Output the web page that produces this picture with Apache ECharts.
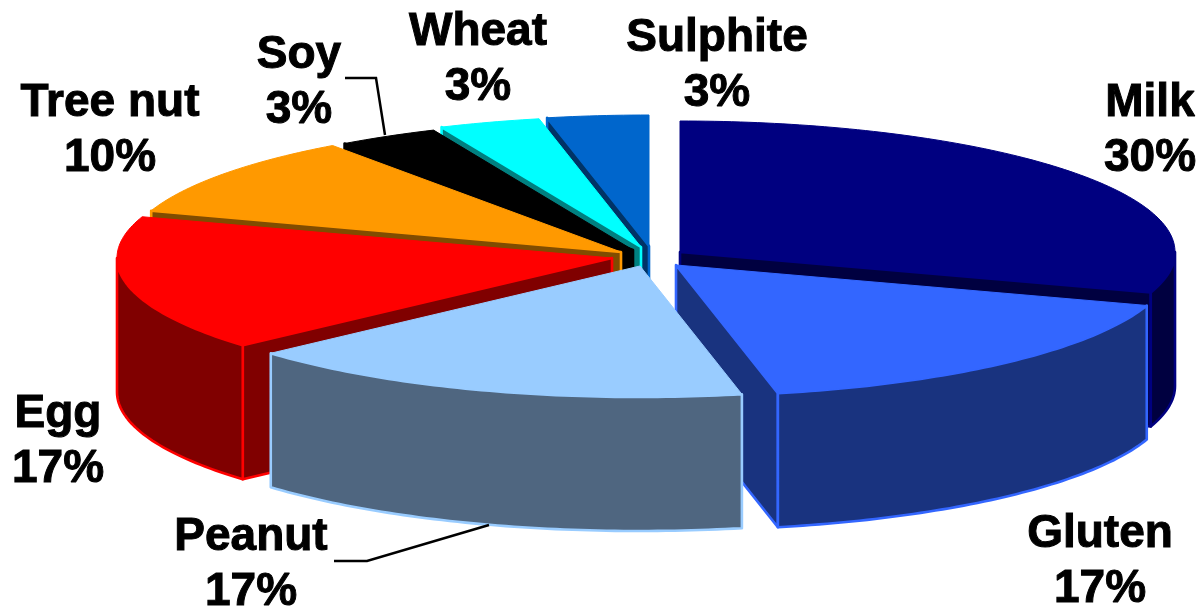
<!DOCTYPE html>
<html>
<head>
<meta charset="utf-8">
<title>Food allergens</title>
<script src="https://cdn.jsdelivr.net/npm/echarts@6/dist/echarts.min.js"></script>
<style>
  html, body { margin: 0; padding: 0; background: #fff; }
  #chart { width: 1200px; height: 609px; }
</style>
</head>
<body>
<div id="chart"></div>
<script>
const categories = ['Milk', 'Gluten', 'Peanut', 'Egg', 'Tree nut', 'Soy', 'Wheat', 'Sulphite'];
const shares = [30, 16.7, 16.7, 16.7, 10, 3.3, 3.3, 3.3];

const topColors = ['#000080', '#3366ff', '#99ccff', '#ff0000', '#ff9900', '#000000', '#00ffff', '#0066cc'];
const sideColors = ['#000040', '#19337f', '#4f6680', '#800000', '#804c00', '#000000', '#008080', '#003366'];

// layout of the exploded pie, in pixels
const RX = 495;
const RY = 131;
const DEPTH = 134;
const sliceApex = [[680, 252], [676, 265], [640, 266], [612, 258], [621, 252], [633, 250], [641, 247], [649, 246]];
const labelCenter = [[1150, 131], [1100, 562], [251, 565], [58, 442], [110, 131], [299, 83], [478, 60], [717, 66]];
// back slices are painted first
const paintRank = [4, 6, 7, 5, 3, 2, 1, 0];
const leaders = {
  Soy: [[345, 78], [376, 78], [385, 135]],
  Peanut: [[334, 561], [367, 561], [489, 525]],
};

const total = shares.reduce((a, b) => a + b, 0);

function rim(apex, deg) {
  const t = (deg * Math.PI) / 180;
  return [apex[0] + RX * Math.sin(t), apex[1] - RY * Math.cos(t)];
}

function arc(apex, from, to) {
  const pts = [];
  const steps = Math.max(2, Math.ceil(to - from));
  for (let i = 0; i <= steps; i++) {
    pts.push(rim(apex, from + ((to - from) * i) / steps));
  }
  return pts;
}

const drop = (p) => [p[0], p[1] + DEPTH];

function renderSlice(params, api) {
  const i = params.dataIndex;
  let before = 0;
  for (let k = 0; k < i; k++) before += shares[k];
  const start = (before / total) * 360;
  const end = start + (api.value(0) / total) * 360;
  const apex = sliceApex[i];
  const rank = paintRank[i] * 10;
  const style = (fill) => ({ fill, stroke: topColors[i], lineWidth: 2.6, lineJoin: 'round' });
  const children = [];

  const radialWall = (deg) => {
    const p = rim(apex, deg);
    children.push({
      type: 'polygon',
      z2: rank,
      shape: { points: [apex, p, drop(p), drop(apex)] },
      style: style(sideColors[i]),
    });
  };
  if (Math.sin((start * Math.PI) / 180) < -1e-6) radialWall(start);
  if (Math.sin((end * Math.PI) / 180) > 1e-6) radialWall(end);

  const wallFrom = Math.max(start, 90);
  const wallTo = Math.min(end, 270);
  if (wallTo > wallFrom) {
    const edge = arc(apex, wallFrom, wallTo);
    children.push({
      type: 'polygon',
      z2: rank + 1,
      shape: { points: edge.concat(edge.map(drop).reverse()) },
      style: style(sideColors[i]),
    });
  }

  children.push({
    type: 'polygon',
    z2: rank + 2,
    shape: { points: [apex].concat(arc(apex, start, end)) },
    style: { fill: topColors[i], stroke: topColors[i], lineWidth: 1, lineJoin: 'round' },
  });

  children.push({
    type: 'text',
    z2: 200,
    x: labelCenter[i][0],
    y: labelCenter[i][1],
    style: {
      text: categories[i] + '\n' + Math.round(api.value(0)) + '%',
      fill: '#000',
      stroke: '#000',
      lineWidth: 1,
      font: 'bold 46px "Liberation Sans", Arial, sans-serif',
      lineHeight: 55,
      align: 'center',
      verticalAlign: 'middle',
    },
  });

  if (leaders[categories[i]]) {
    children.push({
      type: 'polyline',
      z2: 200,
      shape: { points: leaders[categories[i]] },
      style: { fill: null, stroke: '#000', lineWidth: 2.5 },
    });
  }

  return { type: 'group', children };
}

const chart = echarts.init(document.getElementById('chart'), null, { renderer: 'canvas' });
chart.setOption({
  backgroundColor: '#fff',
  animation: false,
  series: [
    {
      type: 'custom',
      coordinateSystem: 'none',
      renderItem: renderSlice,
      data: shares,
    },
  ],
});
</script>
</body>
</html>
